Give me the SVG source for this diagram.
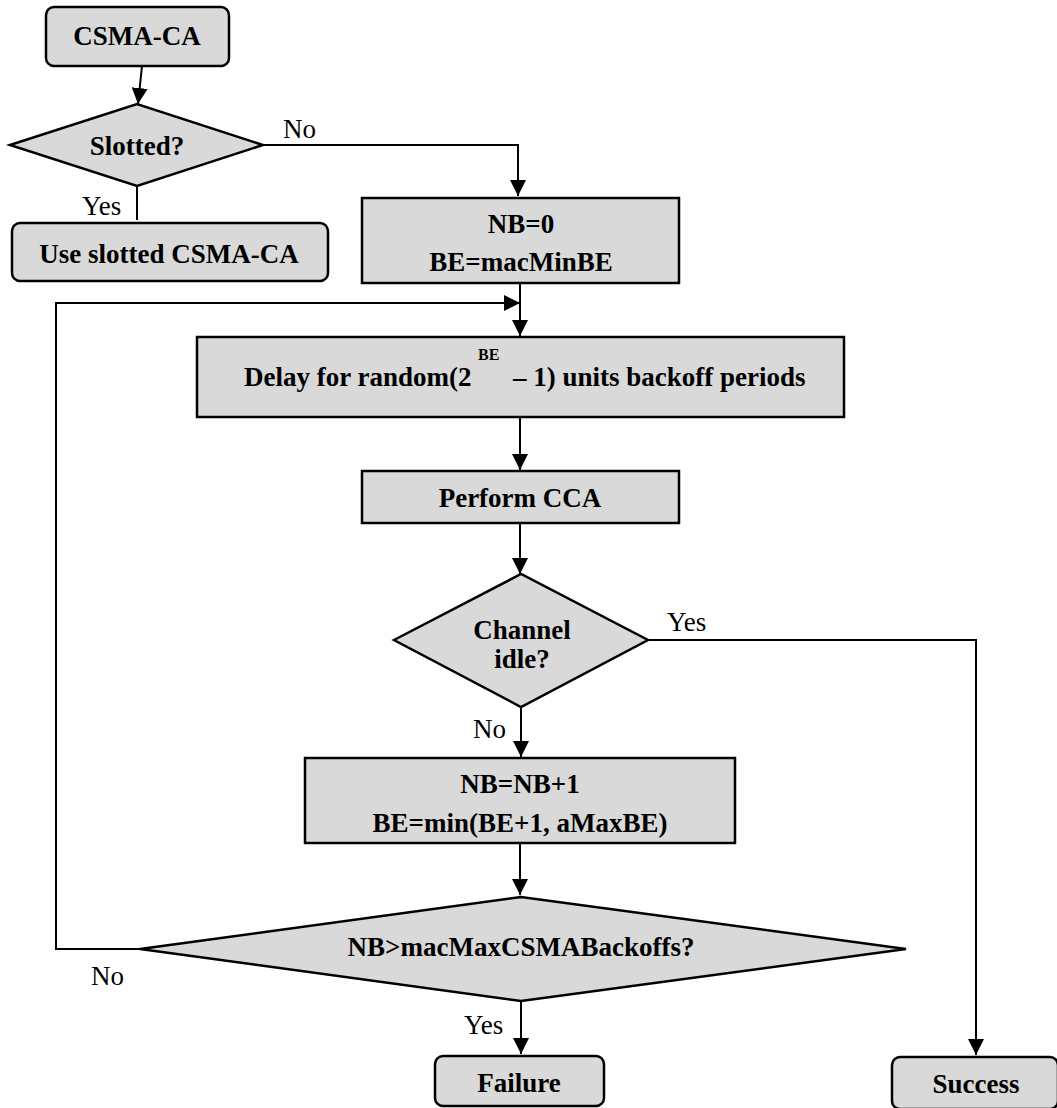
<svg xmlns="http://www.w3.org/2000/svg" width="1057" height="1108" viewBox="0 0 1057 1108">
  <style>
    .box { fill: #d9d9d9; stroke: #000; stroke-width: 2.5; }
    .edge { fill: none; stroke: #000; stroke-width: 2; }
    .t { font-family: "Liberation Serif", "Times New Roman", serif; font-weight: bold; font-size: 27px; fill: #000; text-anchor: middle; }
    .ts { font-family: "Liberation Serif", "Times New Roman", serif; font-weight: bold; font-size: 27px; fill: #000; text-anchor: start; }
    .sup { font-family: "Liberation Serif", "Times New Roman", serif; font-weight: bold; font-size: 16px; fill: #000; }
    .lbl { font-family: "Liberation Serif", "Times New Roman", serif; font-size: 27px; fill: #000; }
  </style>
  <defs>
    <marker id="arrow" markerUnits="userSpaceOnUse" markerWidth="16" markerHeight="16" viewBox="0 0 14 14" refX="14" refY="7" orient="auto">
      <path d="M0,0 L14,7 L0,14 Z" fill="#000"/>
    </marker>
  </defs>
  <rect width="1057" height="1108" fill="#fff"/>

  <!-- connectors and their branch labels -->
  <g id="connectors">
    <path class="edge" d="M142,66 L138,104" marker-end="url(#arrow)"/>
    <path class="edge" d="M263,145 L518,145 L518,196" marker-end="url(#arrow)"/>
    <path class="edge" d="M137,186 L137,220"/>
    <path class="edge" d="M520,283 L520,336" marker-end="url(#arrow)"/>
    <path class="edge" d="M140,949 L56,949 L56,303 L520,303" marker-end="url(#arrow)"/>
    <path class="edge" d="M520,417 L520,470" marker-end="url(#arrow)"/>
    <path class="edge" d="M520,523 L520,574" marker-end="url(#arrow)"/>
    <path class="edge" d="M648,640 L976,640 L976,1055" marker-end="url(#arrow)"/>
    <path class="edge" d="M521,707 L521,757" marker-end="url(#arrow)"/>
    <path class="edge" d="M520,843 L520,895" marker-end="url(#arrow)"/>
    <path class="edge" d="M521,1001 L521,1054" marker-end="url(#arrow)"/>
    <text class="lbl" x="283" y="138">No</text>
    <text class="lbl" x="82" y="215">Yes</text>
    <text class="lbl" x="667" y="631">Yes</text>
    <text class="lbl" x="473" y="738">No</text>
    <text class="lbl" x="91" y="985">No</text>
    <text class="lbl" x="464" y="1034">Yes</text>
  </g>

  <g id="start">
    <rect class="box" x="46" y="7" width="183" height="59" rx="8"/>
    <text class="t" x="137" y="45">CSMA-CA</text>
  </g>

  <g id="slotted">
    <polygon class="box" points="10,145 137,104 263,145 137,186"/>
    <text class="t" x="137" y="155">Slotted?</text>
  </g>

  <g id="use-slotted">
    <rect class="box" x="12" y="223" width="316" height="58" rx="8"/>
    <text class="t" x="169" y="263">Use slotted CSMA-CA</text>
  </g>

  <g id="init">
    <rect class="box" x="362" y="198" width="317" height="85"/>
    <text class="t" x="521" y="233">NB=0</text>
    <text class="t" x="521" y="271">BE=macMinBE</text>
  </g>

  <g id="delay">
    <rect class="box" x="197" y="337" width="647" height="80"/>
    <text class="ts" x="244" y="386">Delay for random(2</text>
    <text class="sup" x="478" y="360">BE</text>
    <text class="ts" x="513" y="386">– 1) units backoff periods</text>
  </g>

  <g id="cca">
    <rect class="box" x="362" y="471" width="317" height="52"/>
    <text class="t" x="520" y="507">Perform CCA</text>
  </g>

  <g id="idle">
    <polygon class="box" points="394,640 521,574 648,640 521,707"/>
    <text class="t" x="522" y="639">Channel</text>
    <text class="t" x="522" y="668">idle?</text>
  </g>

  <g id="update">
    <rect class="box" x="305" y="758" width="430" height="85"/>
    <text class="t" x="520" y="793">NB=NB+1</text>
    <text class="t" x="520" y="832">BE=min(BE+1, aMaxBE)</text>
  </g>

  <g id="limit">
    <polygon class="box" points="140,949 521,897 906,949 521,1001"/>
    <text class="t" x="521" y="956">NB&gt;macMaxCSMABackoffs?</text>
  </g>

  <g id="failure">
    <rect class="box" x="435" y="1056" width="169" height="50" rx="8"/>
    <text class="t" x="519" y="1092">Failure</text>
  </g>

  <g id="success">
    <rect class="box" x="892" y="1057" width="166" height="52" rx="8"/>
    <text class="t" x="976" y="1093">Success</text>
  </g>
</svg>
